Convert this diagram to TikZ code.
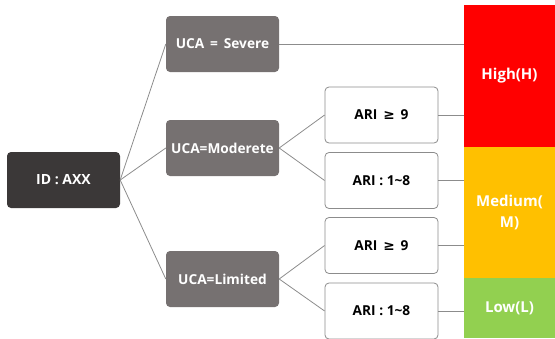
\documentclass[tikz,border=0pt]{standalone}
\usepackage{fontspec}
\setmainfont{Open Sans}[BoldFont={Open Sans Bold}]
\newfontfamily\symfont{DejaVu Sans}[BoldFont={DejaVu Sans Bold}]
\definecolor{darkbox}{HTML}{3B3838}
\definecolor{ucagray}{HTML}{767171}
\definecolor{linegray}{HTML}{8C8C8C}
\definecolor{hired}{HTML}{FF0000}
\definecolor{medorange}{HTML}{FFC000}
\definecolor{lowgreen}{HTML}{92D050}
\tikzset{
  base/.style={rectangle, rounded corners=4pt, minimum width=113pt, minimum height=56pt, inner sep=0pt, font=\bfseries\fontsize{13.7}{15}\selectfont},
  idbox/.style={base, fill=darkbox, text=white, font=\bfseries\fontsize{14}{16}\selectfont},
  ucabox/.style={base, fill=ucagray, text=white},
  aribox/.style={base, fill=white, draw=linegray, line width=0.8pt, text=black},
  band/.style={rectangle, minimum width=91pt, inner sep=0pt, text=white, align=center, font=\bfseries\fontsize{15}{21}\selectfont},
  conn/.style={draw=linegray, line width=0.8pt}
}
\begin{document}
\begin{tikzpicture}[x=1pt,y=-1pt]
\useasboundingbox (0,0) rectangle (555,338);
\node[idbox] (id) at (63.5,180) {ID : AXX};
\node[ucabox] (sev) at (222.5,44) {UCA \,=\, Severe};
\node[ucabox] (mod) at (222.5,148) {UCA=Moderete};
\node[ucabox] (lim) at (222.5,279) {UCA=Limited};
\node[aribox] (a1) at (381.5,115) {ARI \,{\symfont\bfseries ≥}\, 9};
\node[aribox] (a2) at (381.5,180.5) {ARI : 1\char`\~8};
\node[aribox] (a3) at (381.5,245.5) {ARI \,{\symfont\bfseries ≥}\, 9};
\node[aribox] (a4) at (381.5,311) {ARI : 1\char`\~8};
\node[band, fill=hired, minimum height=142pt] (high) at (509.5,76) {High(H)};
\node[band, fill=medorange, minimum height=131pt] (med) at (509.5,212.5) {Medium(\\M)};
\node[band, fill=lowgreen, minimum height=60pt] (low) at (509.5,308) {Low(L)};
\draw[conn] (id.east) -- (sev.west);
\draw[conn] (id.east) -- (mod.west);
\draw[conn] (id.east) -- (lim.west);
\draw[conn] (sev.east) -- (sev.east -| high.west);
\draw[conn] (mod.east) -- (a1.west);
\draw[conn] (mod.east) -- (a2.west);
\draw[conn] (lim.east) -- (a3.west);
\draw[conn] (lim.east) -- (a4.west);
\draw[conn] (a1.east) -- (a1.east -| high.west);
\draw[conn] (a2.east) -- (a2.east -| med.west);
\draw[conn] (a3.east) -- (a3.east -| med.west);
\draw[conn] (a4.east) -- (a4.east -| low.west);
\end{tikzpicture}
\end{document}
